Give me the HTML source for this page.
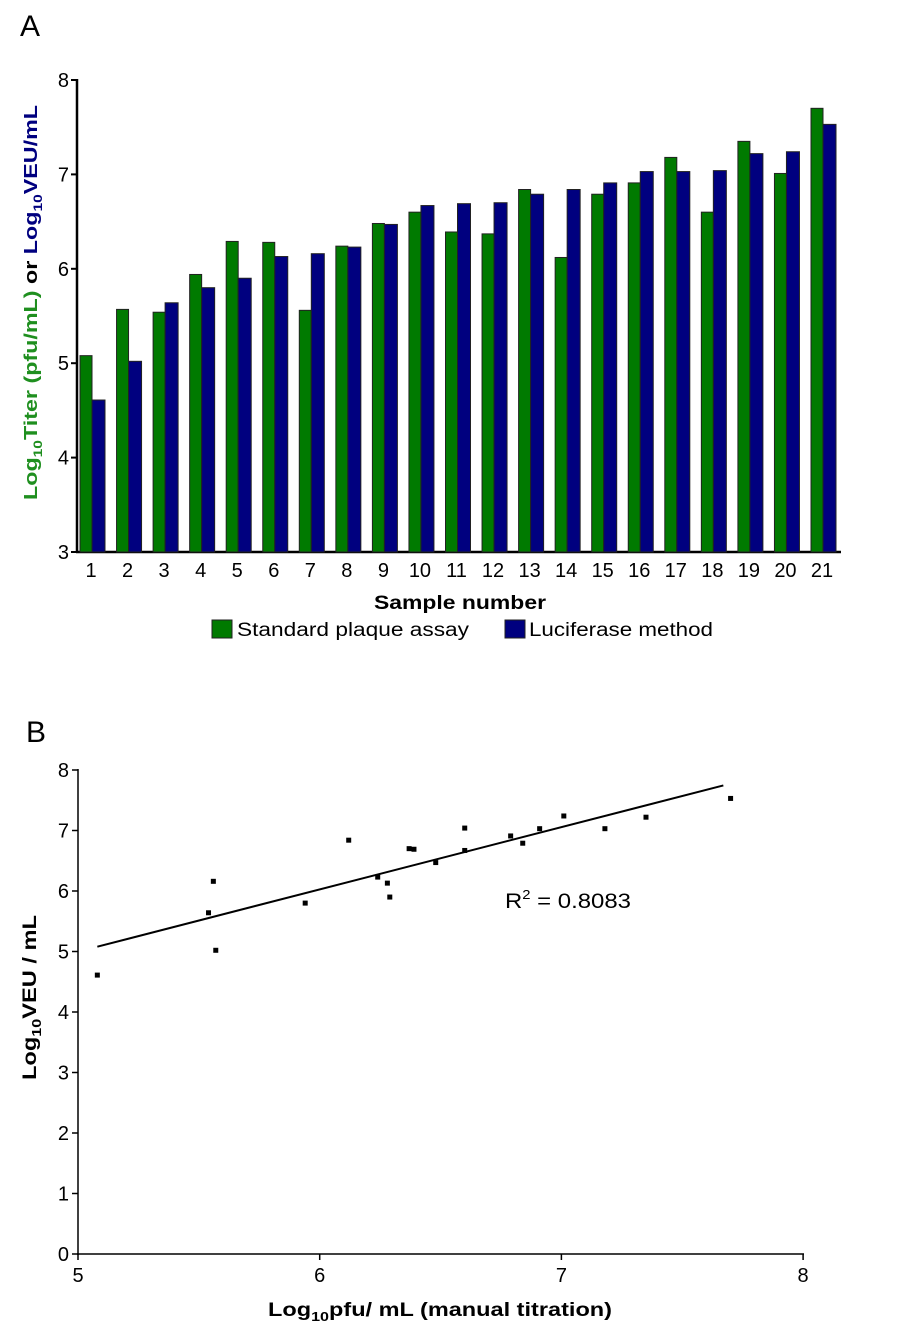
<!DOCTYPE html>
<html><head><meta charset="utf-8"><style>
body{margin:0;background:#fff;}
svg{display:block;font-family:"Liberation Sans",Arial,sans-serif;}
</style></head><body>
<svg id="s" width="900" height="1334">
<text x="20" y="36" font-size="30">A</text>
<text x="26" y="742" font-size="30">B</text>
<g id="ga"></g>
<g id="gb"></g>
</svg>
<script>
const samples=["1","2","3","4","5","6","7","8","9","10","11","12","13","14","15","16","17","18","19","20","21"];
const plaque=[5.08,5.57,5.54,5.94,6.29,6.28,5.56,6.24,6.48,6.60,6.39,6.37,6.84,6.12,6.79,6.91,7.18,6.60,7.35,7.01,7.70];
const luciferase=[4.61,5.02,5.64,5.80,5.90,6.13,6.16,6.23,6.47,6.67,6.69,6.70,6.79,6.84,6.91,7.03,7.03,7.04,7.22,7.24,7.53];
const yTicksA=[3,4,5,6,7,8];
const xTicksB=[5,6,7,8];
const yTicksB=[0,1,2,3,4,5,6,7,8];
const NS="http://www.w3.org/2000/svg";
function mk(p,tag,at,txt){const e=document.createElementNS(NS,tag);for(const k in at)e.setAttribute(k,at[k]);if(txt!==undefined)e.textContent=txt;p.appendChild(e);return e;}
// Chart A
const ga=document.getElementById('ga');
const yA=v=>552-(v-3)*94.4;
const xA=i=>92+i*36.55;
mk(ga,'line',{x1:77,y1:79,x2:77,y2:553,stroke:'#000','stroke-width':2.5});
mk(ga,'line',{x1:76,y1:552,x2:841,y2:552,stroke:'#000','stroke-width':2.5});
yTicksA.forEach(v=>{
 const t=mk(ga,'line',{x1:71,y1:yA(v),x2:77,y2:yA(v),stroke:'#000','stroke-width':2});
 
 const l=mk(ga,'text',{x:69,y:yA(v)+7,'font-size':20,'text-anchor':'end'},v);
 
});
samples.forEach((s,i)=>{
 const c=xA(i);
 const g=mk(ga,'rect',{x:c-12,y:yA(plaque[i]),width:12,height:552-yA(plaque[i]),fill:'#007a00',stroke:'#222','stroke-width':1});
 
 const b=mk(ga,'rect',{x:c,y:yA(luciferase[i]),width:13,height:552-yA(luciferase[i]),fill:'#00007f',stroke:'#222','stroke-width':1});
 
 const l=mk(ga,'text',{x:c-1,y:577,'font-size':20,'text-anchor':'middle'},s);
 
});
const xt=mk(ga,'text',{x:374,y:609,'font-size':19,'font-weight':'bold',textLength:172,lengthAdjust:'spacingAndGlyphs'},'Sample number');

const yt=mk(ga,'text',{transform:'translate(37,500) rotate(-90)','font-size':18,'font-weight':'bold',textLength:395,lengthAdjust:'spacingAndGlyphs'});

yt.innerHTML='<tspan fill="#1f8f1f">Log<tspan font-size="12" dy="5">10</tspan><tspan dy="-5">Titer (pfu/mL)</tspan></tspan><tspan fill="#000"> or </tspan><tspan fill="#00007f">Log<tspan font-size="12" dy="5">10</tspan><tspan dy="-5">VEU/mL</tspan></tspan>';
const lg1=mk(ga,'rect',{x:212,y:620,width:20,height:18,fill:'#007a00',stroke:'#222'});

const lt1=mk(ga,'text',{x:237,y:636,'font-size':19,textLength:232,lengthAdjust:'spacingAndGlyphs'},'Standard plaque assay');

const lg2=mk(ga,'rect',{x:505,y:620,width:20,height:18,fill:'#00007f',stroke:'#222'});

const lt2=mk(ga,'text',{x:529,y:636,'font-size':19,textLength:184,lengthAdjust:'spacingAndGlyphs'},'Luciferase method');

// Chart B
const gb=document.getElementById('gb');
const xB=v=>78+(v-5)*241.7;
const yB=v=>1254-v*60.5;
mk(gb,'line',{x1:78,y1:769,x2:78,y2:1255,stroke:'#000','stroke-width':1.5});
mk(gb,'line',{x1:77,y1:1254,x2:804,y2:1254,stroke:'#000','stroke-width':1.5});
yTicksB.forEach(v=>{
 mk(gb,'line',{x1:72,y1:yB(v),x2:78,y2:yB(v),stroke:'#000','stroke-width':1.5});
 const l=mk(gb,'text',{x:69,y:yB(v)+7,'font-size':20,'text-anchor':'end'},v);
 
});
xTicksB.forEach(v=>{
 mk(gb,'line',{x1:xB(v),y1:1254,x2:xB(v),y2:1260,stroke:'#000','stroke-width':1.5});
 const l=mk(gb,'text',{x:xB(v),y:1282,'font-size':20,'text-anchor':'middle'},v);
 
});
const n=plaque.length;let mx=0,my=0;plaque.forEach((v,i)=>{mx+=v;my+=luciferase[i];});mx/=n;my/=n;
let sxy=0,sxx=0;plaque.forEach((v,i)=>{sxy+=(v-mx)*(luciferase[i]-my);sxx+=(v-mx)*(v-mx);});
const sl=sxy/sxx,ic=my-sl*mx;const xmin=Math.min(...plaque),xmax=Math.max(...plaque);
const rl=mk(gb,'line',{x1:xB(xmin),y1:yB(ic+sl*xmin),x2:xB(xmax-0.03),y2:yB(ic+sl*(xmax-0.03)),stroke:'#000','stroke-width':2});

plaque.forEach((v,i)=>{
 const p=mk(gb,'rect',{x:xB(v)-2.5,y:yB(luciferase[i])-2.5,width:5,height:5,fill:'#000'});
 
});
const r2=mk(gb,'text',{x:505,y:908,'font-size':21,textLength:126,lengthAdjust:'spacingAndGlyphs'},'');

r2.innerHTML='R<tspan font-size="13" dy="-9">2</tspan><tspan dy="9"> = 0.8083</tspan>';
const bx=mk(gb,'text',{x:268,y:1316,'font-size':19,'font-weight':'bold',textLength:344,lengthAdjust:'spacingAndGlyphs'});

bx.innerHTML='Log<tspan font-size="13" dy="5">10</tspan><tspan dy="-5">pfu/ mL (manual titration)</tspan>';
const by=mk(gb,'text',{transform:'translate(36,1080) rotate(-90)','font-size':19,'font-weight':'bold',textLength:165,lengthAdjust:'spacingAndGlyphs'});

by.innerHTML='Log<tspan font-size="13" dy="5">10</tspan><tspan dy="-5">VEU / mL</tspan>';
</script>
</body></html>
